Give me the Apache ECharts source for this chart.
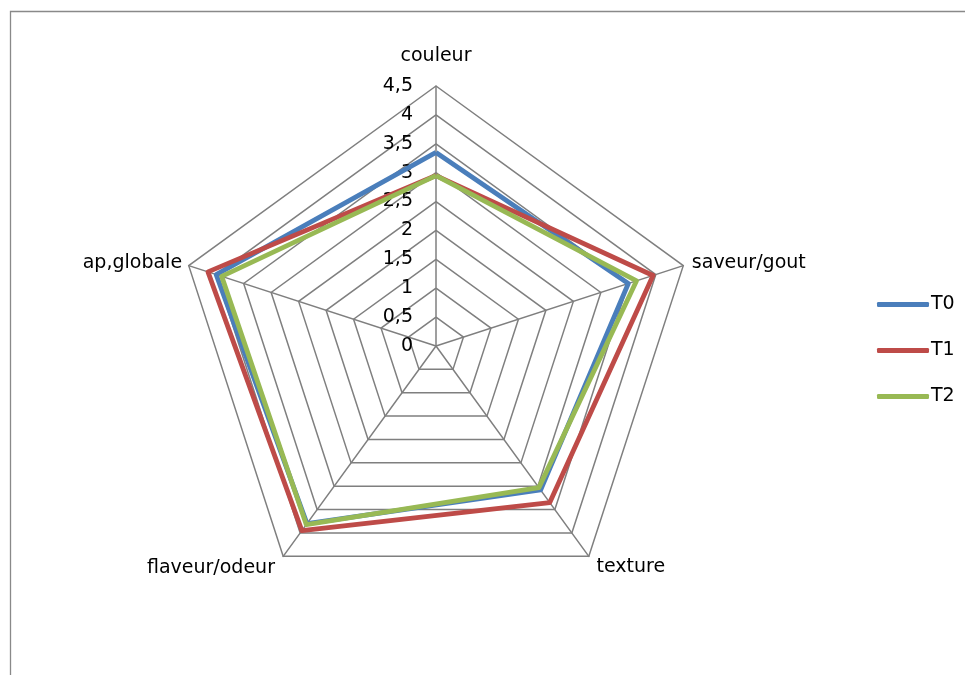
<!DOCTYPE html>
<html>
<head>
<meta charset="utf-8">
<script src="https://cdn.jsdelivr.net/npm/echarts@6/dist/echarts.min.js"></script>
<style>html,body{margin:0;padding:0;background:#fff}#c{width:965px;height:675px}</style>
</head>
<body>
<div id="c"></div>
<script>
// Categories in clockwise order starting at the top
var categories = ['couleur', 'saveur/gout', 'texture', 'flaveur/odeur', 'ap,globale'];
var seriesNames = ['T0', 'T1', 'T2'];
var T0 = [3.35, 3.5, 3.08, 3.8, 4.0];
var T1 = [2.95, 3.95, 3.35, 3.95, 4.15];
var T2 = [2.95, 3.65, 3.03, 3.82, 3.9];
var tickValues = [0, 0.5, 1, 1.5, 2, 2.5, 3, 3.5, 4, 4.5];
var axisMax = 4.5;

var colors = ['#4A7EBB', '#BE4B48', '#98B954'];
var FONT = 'DejaVu Sans';

// per-category name gap (layout only)
var nameGaps = [20, 9, 13, 14, 7];

// ECharts places indicators counter-clockwise; reorder so they go clockwise
var order = [0, 4, 3, 2, 1];
var indicator = order.map(function (i) {
  return { name: categories[i], min: 0, max: axisMax, nameGap: nameGaps[i] };
});
function reorder(arr) { return order.map(function (i) { return arr[i]; }); }

var cx = 436, cy = 346, R = 260;

var chart = echarts.init(document.getElementById('c'), null, { renderer: 'canvas' });
chart.setOption({
  animation: false,
  backgroundColor: '#fff',
  graphic: [{
    type: 'rect',
    shape: { x: 10.5, y: 11.5, width: 2000, height: 2000 },
    style: { fill: 'none', stroke: '#898989', lineWidth: 1.3 },
    silent: true
  }],
  legend: {
    orient: 'vertical',
    left: 872,
    top: 290,
    icon: 'roundRect',
    itemWidth: 52,
    itemHeight: 5,
    itemGap: 27,
    data: seriesNames,
    textStyle: { fontFamily: FONT, fontSize: 19, color: '#000', lineHeight: 19, padding: [0, 0, 0, -3] }
  },
  radar: {
    center: [cx, cy],
    radius: R,
    startAngle: 90,
    splitNumber: tickValues.length - 1,
    shape: 'polygon',
    indicator: indicator,
    nameGap: 14,
    axisName: { color: '#000', fontFamily: FONT, fontSize: 19 },
    axisLine: { lineStyle: { color: '#7f7f7f', width: 1.5 } },
    splitLine: { lineStyle: { color: '#7f7f7f', width: 1.5 } },
    splitArea: { show: false },
    axisTick: { show: false },
    axisLabel: { show: false }
  },
  grid: { left: cx, top: cy - R, width: 1, height: R },
  xAxis: { type: 'value', show: false },
  yAxis: {
    type: 'value',
    min: 0,
    max: axisMax,
    interval: 0.5,
    axisLine: { show: false },
    axisTick: { show: false },
    splitLine: { show: false },
    axisLabel: {
      margin: 23,
      color: '#000',
      fontFamily: FONT,
      fontSize: 19,
      formatter: function (v) { return String(v).replace('.', ','); }
    }
  },
  series: [{
    type: 'radar',
    symbol: 'none',
    data: [T0, T1, T2].map(function (vals, k) {
      return {
        name: seriesNames[k],
        value: reorder(vals),
        lineStyle: { color: colors[k], width: 4.8 },
        itemStyle: { color: colors[k] }
      };
    })
  }]
});
</script>
</body>
</html>
